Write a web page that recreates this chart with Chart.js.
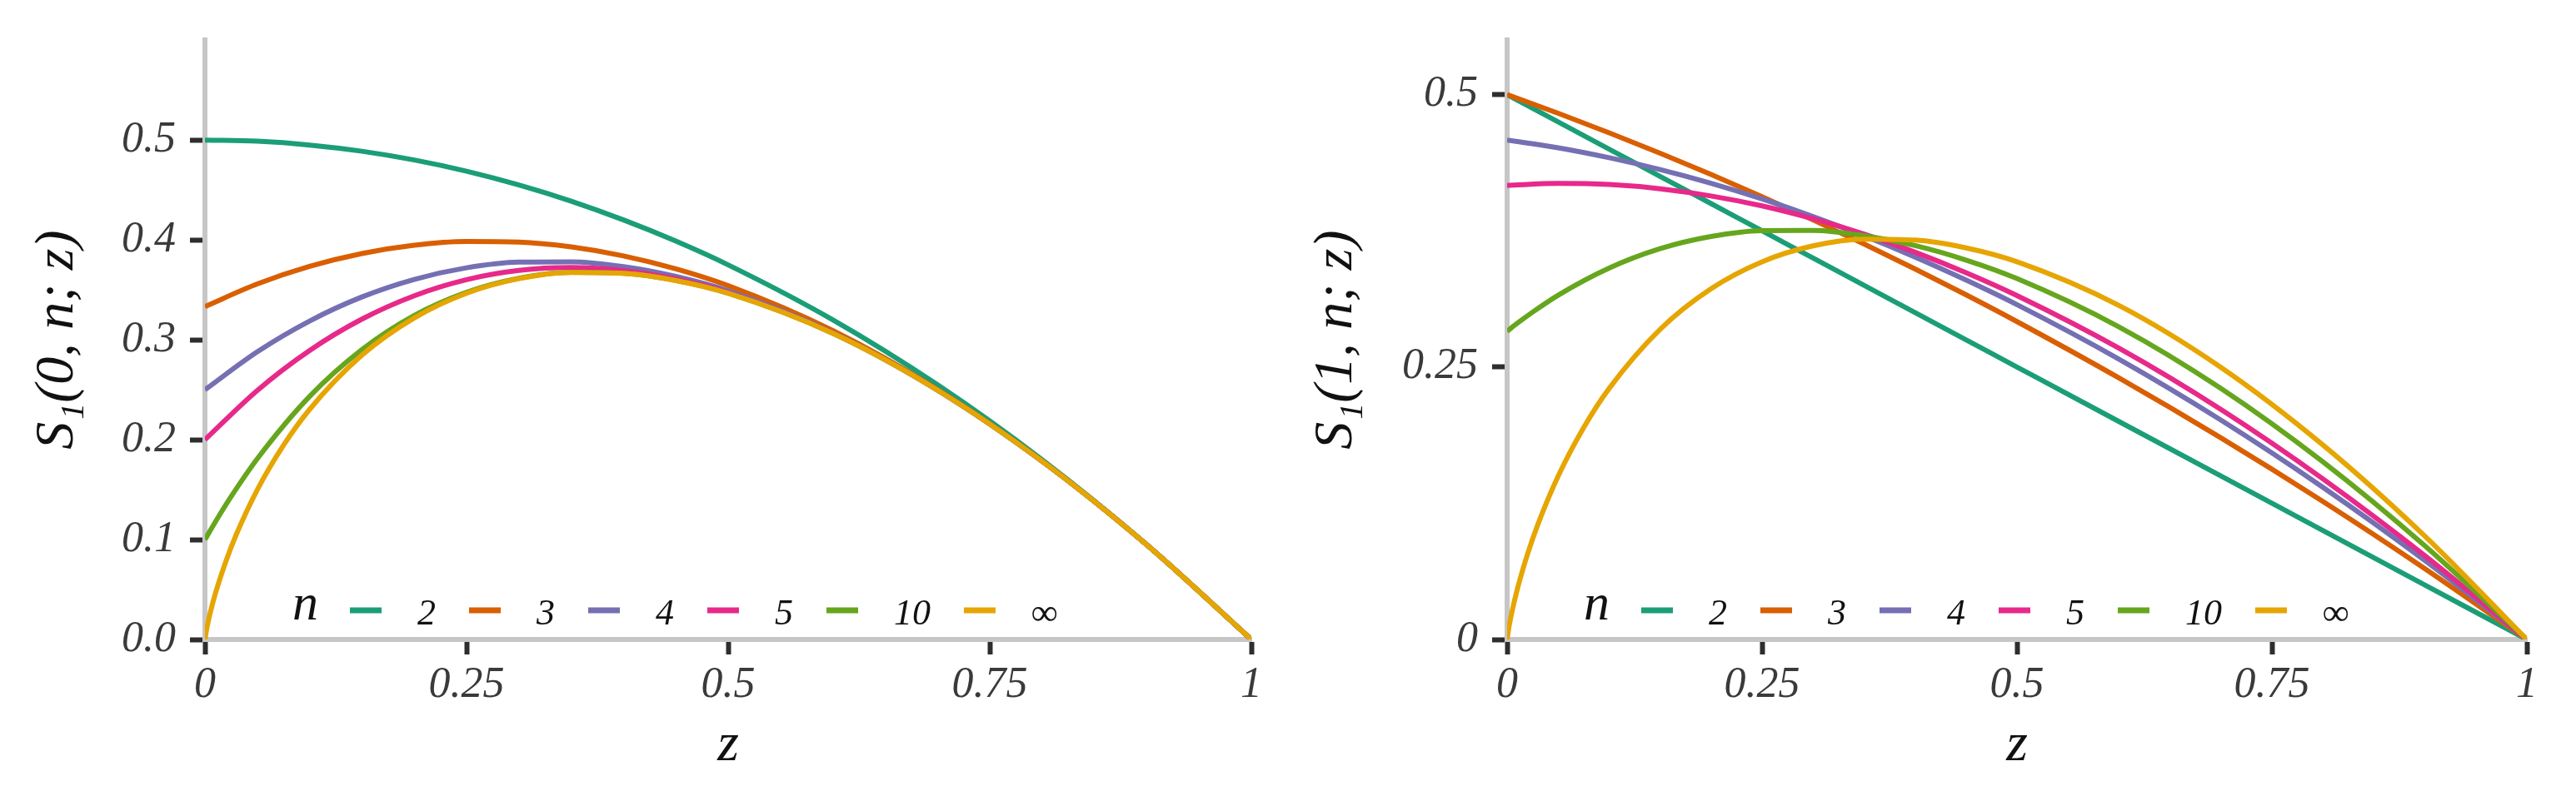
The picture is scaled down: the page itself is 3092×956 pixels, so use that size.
<!DOCTYPE html>
<html>
<head>
<meta charset="utf-8">
<script src="https://cdn.jsdelivr.net/npm/chart.js@4.4.1/dist/chart.umd.min.js"></script>
<style>
  html, body { margin: 0; padding: 0; background: #ffffff; }
  #wrap { position: relative; width: 3092px; height: 956px; }
  canvas { position: absolute; top: 0; }
  #leftChart { left: 0; }
  #rightChart { left: 1546px; }
</style>
</head>
<body>
<div id="wrap">
  <canvas id="leftChart" width="1546" height="956"></canvas>
  <canvas id="rightChart" width="1546" height="956"></canvas>
</div>
<script>
// legend entries (n)
const nLabels = ['2', '3', '4', '5', '10', '\u221E'];

// z grids the values were read at
const zGrid = [0, 0.05, 0.1, 0.15, 0.2, 0.25, 0.3, 0.35, 0.4, 0.45, 0.5, 0.6, 0.7, 0.8, 0.9, 1];
const zFine = [0, 0.01, 0.025, 0.05, 0.1, 0.15, 0.2, 0.25, 0.3, 0.35, 0.4, 0.45, 0.5, 0.6, 0.7, 0.8, 0.9, 1];
const zInf = [0, 0.002, 0.005, 0.01, 0.02, 0.03, 0.05, 0.075, 0.1, 0.15, 0.2, 0.25, 0.3, 0.35, 0.4, 0.45, 0.5, 0.6, 0.7, 0.8, 0.9, 1];

// left panel: S1(0, n; z)
const left2 = [0.5, 0.4988, 0.495, 0.4888, 0.48, 0.4688, 0.455, 0.4388, 0.42, 0.3988, 0.375, 0.32, 0.255, 0.18, 0.095, 0];
const left3 = [0.3333, 0.3559, 0.3735, 0.3864, 0.3947, 0.3984, 0.3978, 0.393, 0.384, 0.371, 0.3542, 0.3093, 0.2505, 0.1787, 0.0948, 0];
const left4 = [0.25, 0.288, 0.3188, 0.3429, 0.3605, 0.3721, 0.3778, 0.3781, 0.3732, 0.3634, 0.349, 0.3072, 0.2498, 0.1785, 0.0948, 0];
const left5 = [0.2, 0.2493, 0.2893, 0.3207, 0.3441, 0.3602, 0.3694, 0.3723, 0.3693, 0.3609, 0.3474, 0.3067, 0.2497, 0.1785, 0.0948, 0];
const left10 = [0.1, 0.1178, 0.143, 0.1809, 0.2433, 0.2902, 0.3244, 0.3476, 0.3616, 0.3676, 0.3666, 0.3594, 0.3466, 0.3065, 0.2497, 0.1785, 0.0948, 0];

// n = infinity, same curve in both panels
const sInf = [0, 0.0124, 0.0265, 0.0461, 0.0782, 0.1052, 0.1498, 0.1943, 0.2303, 0.2846, 0.3219, 0.3466, 0.3612, 0.3674, 0.3665, 0.3593, 0.3466, 0.3065, 0.2497, 0.1785, 0.0948, 0];

// right panel: S1(1, n; z)
const right2 = [0.5, 0.475, 0.45, 0.425, 0.4, 0.375, 0.35, 0.325, 0.3, 0.275, 0.25, 0.2, 0.15, 0.1, 0.05, 0];
const right3 = [0.5, 0.4829, 0.465, 0.4463, 0.4267, 0.4063, 0.385, 0.3629, 0.34, 0.3163, 0.2917, 0.24, 0.185, 0.1267, 0.065, 0];
const right4 = [0.4583, 0.4512, 0.4421, 0.4313, 0.4187, 0.4043, 0.3882, 0.3704, 0.351, 0.3299, 0.3073, 0.2573, 0.2014, 0.1397, 0.0725, 0];
const right5 = [0.4167, 0.4185, 0.4175, 0.4136, 0.407, 0.3979, 0.3861, 0.372, 0.3554, 0.3366, 0.3156, 0.2673, 0.2111, 0.1474, 0.0769, 0];
const right10 = [0.2829, 0.2902, 0.3004, 0.3159, 0.3408, 0.3586, 0.3698, 0.3752, 0.3754, 0.3706, 0.3615, 0.3482, 0.3312, 0.2869, 0.2304, 0.163, 0.0859, 0];

// ticks
const xTicks = [0, 0.25, 0.5, 0.75, 1];
const xTickLabels = ['0', '0.25', '0.5', '0.75', '1'];
const leftYTicks = [0, 0.1, 0.2, 0.3, 0.4, 0.5];
const leftYTickLabels = ['0.0', '0.1', '0.2', '0.3', '0.4', '0.5'];
const rightYTicks = [0, 0.25, 0.5];
const rightYTickLabels = ['0', '0.25', '0.5'];

const colors = ['#1B9E77', '#D95F02', '#7570B3', '#E7298A', '#66A61E', '#E6A502'];
const serif = "'Liberation Serif', 'DejaVu Serif', serif";
const axisGrey = '#c6c6c6';
const tickDark = '#2e2e2e';

function pts(zs, vs) {
    return zs.map((z, i) => ({ x: z, y: vs[i] }));
}

function makeDatasets(series) {
    return series.map((s, i) => ({
        label: nLabels[i],
        data: pts(s[0], s[1]),
        borderColor: colors[i],
        backgroundColor: colors[i],
        borderWidth: 6,
        pointRadius: 0,
        fill: false,
        cubicInterpolationMode: 'monotone',
        order: series.length - i   // later series on top
    }));
}

// legend drawn inside the plot, along the bottom: "n — 2 — 3 ..."
const inlineLegend = {
    id: 'inlineLegend',
    afterDatasetsDraw(chart, args, opts) {
        const { ctx, chartArea } = chart;
        let x = chartArea.left + opts.left;
        const base = chartArea.bottom;
        ctx.save();
        ctx.textAlign = 'left';
        ctx.textBaseline = 'middle';
        ctx.fillStyle = '#111111';
        ctx.font = 'italic 62px ' + serif;
        ctx.fillText('n', x, base - 40);
        x += ctx.measureText('n').width + 38;
        ctx.font = 'italic 44px ' + serif;
        chart.data.datasets.forEach(ds => {
            ctx.strokeStyle = ds.borderColor;
            ctx.lineWidth = 7;
            ctx.lineCap = 'butt';
            ctx.beginPath();
            ctx.moveTo(x, base - 35);
            ctx.lineTo(x + 38, base - 35);
            ctx.stroke();
            x += 38 + 43;
            ctx.fillText(ds.label, x, base - 30);
            x += ctx.measureText(ds.label).width + 40;
        });
        ctx.restore();
    }
};

function makeOptions(cfg) {
    return {
        responsive: false,
        animation: false,
        layout: { padding: { left: 0, top: 44, right: cfg.padRight, bottom: 0 } },
        plugins: {
            legend: { display: false },
            tooltip: { enabled: false },
            inlineLegend: { left: cfg.legendLeft }
        },
        scales: {
            x: {
                type: 'linear',
                min: 0,
                max: 1,
                border: { display: true, color: axisGrey, width: 6 },
                grid: { drawOnChartArea: false, drawTicks: true, tickLength: 18, tickWidth: 6, tickColor: tickDark },
                afterBuildTicks: s => { s.ticks = xTicks.map(v => ({ value: v })); },
                ticks: {
                    autoSkip: false,
                    maxRotation: 0,
                    padding: 6,
                    color: '#3a3a3a',
                    font: { family: serif, style: 'italic', size: 52 },
                    callback: v => xTickLabels[xTicks.indexOf(v)]
                },
                title: {
                    display: true,
                    text: 'z',
                    color: '#111111',
                    font: { family: serif, style: 'italic', size: 66, lineHeight: 1.2 },
                    padding: { top: 0, bottom: 21 }
                },
                afterFit: s => { s.height = 188; }
            },
            y: {
                type: 'linear',
                min: 0,
                max: cfg.yMax,
                border: { display: true, color: axisGrey, width: 6 },
                grid: { drawOnChartArea: false, drawTicks: true, tickLength: 18, tickWidth: 6, tickColor: tickDark },
                afterBuildTicks: s => { s.ticks = cfg.yTicks.map(v => ({ value: v })); },
                ticks: {
                    autoSkip: false,
                    padding: 17,
                    color: '#3a3a3a',
                    font: { family: serif, style: 'italic', size: 52 },
                    callback: v => cfg.yTickLabels[cfg.yTicks.indexOf(v)]
                },
                title: {
                    display: true,
                    text: cfg.yTitle,
                    color: '#111111',
                    font: { family: serif, style: 'italic', size: 66, lineHeight: 1.2 },
                    padding: { top: cfg.titlePad, bottom: 0 }
                },
                afterFit: s => { s.width = cfg.axisWidth; }
            }
        }
    };
}

const leftChart = new Chart(document.getElementById('leftChart').getContext('2d'), {
    type: 'line',
    data: {
        datasets: makeDatasets([
            [zGrid, left2], [zGrid, left3], [zGrid, left4], [zGrid, left5], [zFine, left10], [zInf, sInf]
        ])
    },
    options: makeOptions({
        yMax: 0.6, yTicks: leftYTicks, yTickLabels: leftYTickLabels,
        yTitle: 'S\u2081(0, n; z)', axisWidth: 246, padRight: 44, titlePad: 30, legendLeft: 105
    }),
    plugins: [inlineLegend]
});

const rightChart = new Chart(document.getElementById('rightChart').getContext('2d'), {
    type: 'line',
    data: {
        datasets: makeDatasets([
            [zGrid, right2], [zGrid, right3], [zGrid, right4], [zGrid, right5], [zFine, right10], [zInf, sInf]
        ])
    },
    options: makeOptions({
        yMax: 0.55, yTicks: rightYTicks, yTickLabels: rightYTickLabels,
        yTitle: 'S\u2081(1, n; z)', axisWidth: 263, padRight: 59, titlePad: 19, legendLeft: 92
    }),
    plugins: [inlineLegend]
});
</script>
</body>
</html>
